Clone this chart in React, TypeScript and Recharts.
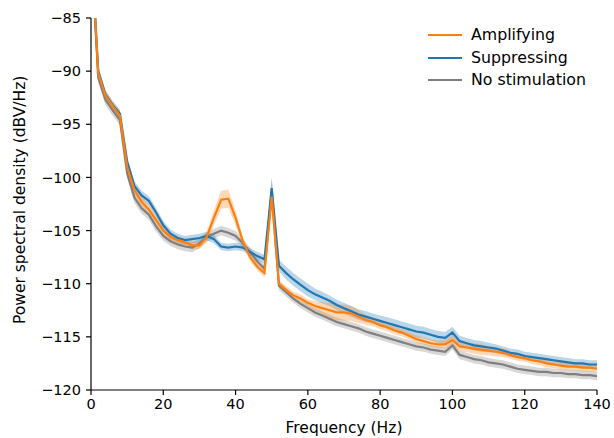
import { Area, ComposedChart, Line, XAxis, YAxis } from "recharts";

const FREQS = [
  0, 2, 4, 6, 8, 10, 12, 14, 16, 18, 20, 22, 24, 26, 28, 30, 32, 34, 36, 38, 40,
  42, 44, 46, 48, 50, 52, 54, 56, 58, 60, 62, 64, 66, 68, 70, 72, 74, 76, 78, 80,
  82, 84, 86, 88, 90, 92, 94, 96, 98, 100, 102, 104, 106, 108, 110, 112, 114, 116,
  118, 120, 122, 124, 126, 128, 130, 132, 134, 136, 138, 140,
];

// mean PSD (dBV/Hz)
const AMPLIFYING = [
  -78, -90.2, -92.3, -93.3, -94.2, -99.0, -101.2, -102.3, -103.0, -104.0, -105.0,
  -105.6, -105.9, -106.1, -106.4, -106.4, -105.6, -103.8, -102.1, -102.0, -103.8,
  -106.0, -107.5, -108.4, -109.0, -101.8, -110.0, -110.6, -111.1, -111.4, -111.8,
  -112.1, -112.3, -112.5, -112.7, -112.7, -112.8, -113.1, -113.4, -113.6, -113.9,
  -114.1, -114.4, -114.6, -114.9, -115.2, -115.4, -115.6, -115.7, -115.7, -115.3,
  -115.9, -116.0, -116.1, -116.2, -116.3, -116.4, -116.5, -116.7, -116.9, -117.0,
  -117.2, -117.3, -117.5, -117.6, -117.7, -117.8, -117.8, -117.9, -117.9, -118.0,
];
const SUPPRESSING = [
  -78, -90.0, -92.2, -93.2, -94.0, -98.5, -100.8, -101.7, -102.2, -103.3, -104.5,
  -105.3, -105.7, -105.9, -105.8, -105.7, -105.5, -105.8, -106.5, -106.6, -106.5,
  -106.6, -107.0, -107.4, -107.7, -101.0, -108.3, -109.0, -109.6, -110.1, -110.6,
  -111.0, -111.3, -111.6, -112.0, -112.3, -112.6, -112.9, -113.1, -113.3, -113.5,
  -113.7, -113.9, -114.1, -114.3, -114.5, -114.6, -114.8, -115.0, -115.1, -114.6,
  -115.4, -115.6, -115.8, -115.9, -116.0, -116.1, -116.3, -116.5, -116.6, -116.8,
  -116.9, -117.0, -117.1, -117.2, -117.3, -117.4, -117.5, -117.5, -117.6, -117.6,
];
const NO_STIM = [
  -78, -90.6, -92.7, -93.7, -94.6, -99.6, -101.9, -102.9, -103.5, -104.6, -105.5,
  -106.0, -106.3, -106.5, -106.6, -106.2, -105.6, -105.3, -105.0, -105.2, -105.5,
  -106.2, -107.0, -107.9, -108.6, -101.3, -110.2, -110.8, -111.4, -111.9, -112.3,
  -112.7, -113.0, -113.3, -113.6, -113.8, -114.0, -114.2, -114.5, -114.7, -114.9,
  -115.1, -115.3, -115.5, -115.7, -115.9, -116.0, -116.2, -116.3, -116.4, -115.8,
  -116.7, -116.9, -117.1, -117.2, -117.4, -117.5, -117.6, -117.8, -118.0, -118.1,
  -118.2, -118.3, -118.3, -118.4, -118.4, -118.5, -118.5, -118.6, -118.6, -118.7,
];

// shaded spread (half width, dB)
const AMPLIFYING_SD = [
  0.45, 0.45, 0.45, 0.45, 0.45, 0.45, 0.45, 0.45, 0.45, 0.4, 0.4, 0.35, 0.35, 0.35,
  0.35, 0.35, 0.5, 0.7, 0.85, 0.85, 0.7, 0.45, 0.35, 0.35, 0.4, 0.6, 0.35, 0.35,
  0.35, 0.35, 0.35, 0.45, 0.55, 0.7, 0.75, 0.75, 0.7, 0.6, 0.45, 0.4, 0.35, 0.35,
  0.35, 0.35, 0.35, 0.35, 0.35, 0.35, 0.35, 0.4, 0.45, 0.45, 0.45, 0.5, 0.5, 0.45,
  0.45, 0.4, 0.35, 0.35, 0.35, 0.35, 0.35, 0.35, 0.35, 0.35, 0.35, 0.35, 0.35,
  0.35, 0.35,
];
const SUPPRESSING_SD = [
  0.4, 0.4, 0.4, 0.4, 0.4, 0.4, 0.45, 0.45, 0.45, 0.45, 0.4, 0.4, 0.4, 0.4, 0.4,
  0.4, 0.4, 0.4, 0.35, 0.35, 0.35, 0.35, 0.35, 0.4, 0.4, 1.0, 0.55, 0.6, 0.6,
  0.6, 0.6, 0.55, 0.55, 0.5, 0.5, 0.5, 0.5, 0.5, 0.5, 0.5, 0.5, 0.55, 0.55, 0.55,
  0.55, 0.55, 0.55, 0.55, 0.55, 0.55, 0.55, 0.5, 0.5, 0.5, 0.5, 0.45, 0.4, 0.4,
  0.4, 0.4, 0.4, 0.4, 0.4, 0.4, 0.4, 0.4, 0.4, 0.4, 0.4, 0.4, 0.4,
];
const NO_STIM_SD = [
  0.5, 0.5, 0.5, 0.5, 0.5, 0.5, 0.5, 0.5, 0.5, 0.5, 0.45, 0.45, 0.45, 0.45, 0.45,
  0.45, 0.45, 0.45, 0.45, 0.45, 0.45, 0.4, 0.4, 0.4, 0.4, 1.3, 0.4, 0.4, 0.4,
  0.4, 0.4, 0.4, 0.4, 0.4, 0.4, 0.4, 0.4, 0.4, 0.4, 0.4, 0.4, 0.4, 0.4, 0.4, 0.4,
  0.4, 0.4, 0.4, 0.4, 0.4, 0.4, 0.4, 0.4, 0.4, 0.4, 0.4, 0.4, 0.4, 0.4, 0.4, 0.4,
  0.4, 0.4, 0.4, 0.4, 0.4, 0.4, 0.4, 0.4, 0.4, 0.4,
];

const X_TICKS = [0, 20, 40, 60, 80, 100, 120, 140];
const Y_TICKS = [-120, -115, -110, -105, -100, -95, -90, -85];

const ORANGE = "#ff7f0e";
const BLUE = "#1f77b4";
const GRAY = "#7f7f7f";
const FONT = "DejaVu Sans, sans-serif";

const LEGEND_ITEMS = [
  { label: "Amplifying", color: ORANGE },
  { label: "Suppressing", color: BLUE },
  { label: "No stimulation", color: GRAY },
];

const data = FREQS.map((f, i) => ({
  f,
  amp: AMPLIFYING[i],
  sup: SUPPRESSING[i],
  none: NO_STIM[i],
  ampBand: [AMPLIFYING[i] - AMPLIFYING_SD[i], AMPLIFYING[i] + AMPLIFYING_SD[i]],
  supBand: [SUPPRESSING[i] - SUPPRESSING_SD[i], SUPPRESSING[i] + SUPPRESSING_SD[i]],
  noneBand: [NO_STIM[i] - NO_STIM_SD[i], NO_STIM[i] + NO_STIM_SD[i]],
}));

const minus = (v: number) => String(v).replace("-", "\u2212");

function LegendBox() {
  return (
    <div
      style={{
        position: "absolute",
        left: 428,
        top: 24,
        fontFamily: FONT,
        fontSize: 15.8,
        color: "#000",
        lineHeight: 1,
      }}
    >
      {LEGEND_ITEMS.map((it) => (
        <div key={it.label} style={{ display: "flex", alignItems: "center", height: 22.5 }}>
          <span
            style={{
              display: "inline-block",
              width: 34,
              height: 2,
              background: it.color,
              marginRight: 9,
            }}
          />
          {it.label}
        </div>
      ))}
    </div>
  );
}

export default function App() {
  const axisTick = { fill: "#000", fontSize: 14.5, fontFamily: FONT };
  return (
    <div style={{ position: "absolute", left: 0, top: 0, width: 614, height: 438, background: "#fff" }}>
      <ComposedChart
        width={614}
        height={438}
        data={data}
        margin={{ top: 18, right: 17, bottom: 0, left: 0 }}
      >
        <XAxis
          dataKey="f"
          type="number"
          domain={[0, 140]}
          ticks={X_TICKS}
          allowDataOverflow
          tick={axisTick}
          tickSize={5}
          tickMargin={4}
          height={48}
          stroke="#000"
          strokeWidth={1.2}
          label={{
            value: "Frequency (Hz)",
            position: "insideBottom",
            offset: 5,
            fill: "#000",
            fontSize: 15.5,
            fontFamily: FONT,
          }}
        />
        <YAxis
          type="number"
          domain={[-120, -85]}
          ticks={Y_TICKS}
          allowDataOverflow
          tickFormatter={minus}
          tick={axisTick}
          tickSize={5}
          tickMargin={5}
          width={91}
          stroke="#000"
          strokeWidth={1.2}
          label={{
            value: "Power spectral density (dBV/Hz)",
            angle: -90,
            position: "insideLeft",
            offset: 19,
            dy: 120,
            fill: "#000",
            fontSize: 15.5,
            fontFamily: FONT,
          }}
        />
        <Area dataKey="noneBand" type="linear" stroke="none" fill={GRAY} fillOpacity={0.3} isAnimationActive={false} />
        <Area dataKey="supBand" type="linear" stroke="none" fill={BLUE} fillOpacity={0.3} isAnimationActive={false} />
        <Area dataKey="ampBand" type="linear" stroke="none" fill={ORANGE} fillOpacity={0.3} isAnimationActive={false} />
        <Line dataKey="none" type="linear" stroke={GRAY} strokeWidth={2.2} dot={false} isAnimationActive={false} />
        <Line dataKey="sup" type="linear" stroke={BLUE} strokeWidth={2.2} dot={false} isAnimationActive={false} />
        <Line dataKey="amp" type="linear" stroke={ORANGE} strokeWidth={2.2} dot={false} isAnimationActive={false} />
      </ComposedChart>
      <LegendBox />
    </div>
  );
}
